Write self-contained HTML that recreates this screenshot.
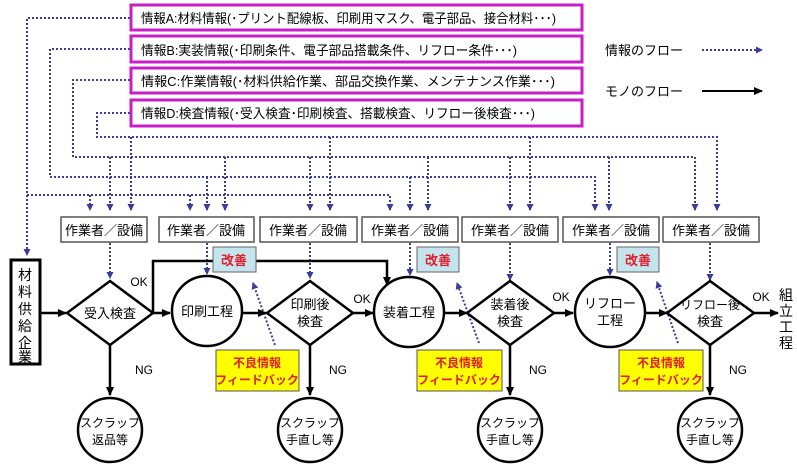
<!DOCTYPE html>
<html><head><meta charset="utf-8"><style>
html,body{margin:0;padding:0;background:#fff;}
svg{display:block;}
text{font-family:"Liberation Sans","Noto Sans CJK JP",sans-serif;}
</style></head><body>
<svg width="797" height="466" viewBox="0 0 797 466" xmlns="http://www.w3.org/2000/svg">
<defs>
<marker id="bd" markerWidth="8" markerHeight="8" refX="6" refY="4" orient="auto" markerUnits="userSpaceOnUse"><path d="M0,0.5 L7,4 L0,7.5 z" fill="#3b3b9c"/></marker>
<marker id="bk" markerWidth="9" markerHeight="9" refX="8" refY="4.5" orient="auto" markerUnits="userSpaceOnUse"><path d="M0,0.5 L9,4.5 L0,8.5 z" fill="#000"/></marker>
</defs>
<g fill="#fff" stroke="#c81ec8" stroke-width="3">
<rect x="131" y="5" width="451" height="25"/>
<rect x="131" y="36" width="451" height="26"/>
<rect x="131" y="68" width="451" height="25"/>
<rect x="131" y="100" width="451" height="26"/>
</g>
<g font-size="13" fill="#000">
<text x="141" y="23" textLength="415" lengthAdjust="spacingAndGlyphs">情報A:材料情報(･プリント配線板、印刷用マスク、電子部品、接合材料･･･)</text>
<text x="141" y="55" textLength="376" lengthAdjust="spacingAndGlyphs">情報B:実装情報(･印刷条件、電子部品搭載条件、リフロー条件･･･)</text>
<text x="141" y="86" textLength="414" lengthAdjust="spacingAndGlyphs">情報C:作業情報(･材料供給作業、部品交換作業、メンテナンス作業･･･)</text>
<text x="141" y="118" textLength="394" lengthAdjust="spacingAndGlyphs">情報D:検査情報(･受入検査･印刷検査、搭載検査、リフロー後検査･･･)</text>
</g>
<g font-size="13"><text x="605" y="55">情報のフロー</text><text x="605" y="96">モノのフロー</text></g>
<line x1="702" y1="50" x2="762" y2="50" stroke="#3b3b9c" stroke-width="2" stroke-dasharray="2 2" marker-end="url(#bd)"/>
<line x1="702" y1="91" x2="762" y2="91" stroke="#000" stroke-width="2" marker-end="url(#bk)"/>
<g fill="none" stroke="#3b3b9c" stroke-width="2" stroke-dasharray="2 2">
<polyline points="130,18 27,18 27,255" marker-end="url(#bd)"/>
<polyline points="27,195 390,195 390,210" marker-end="url(#bd)"/>
<polyline points="130,49 50,49 50,177 595,177 595,210" marker-end="url(#bd)"/>
<polyline points="130,80 73,80 73,157 695,157 695,210" marker-end="url(#bd)"/>
<polyline points="130,113 97,113 97,137 717,137 717,210" marker-end="url(#bd)"/>
<line x1="90" y1="195" x2="90" y2="210" marker-end="url(#bd)"/>
<line x1="110" y1="157" x2="110" y2="210" marker-end="url(#bd)"/>
<line x1="131" y1="137" x2="131" y2="210" marker-end="url(#bd)"/>
<line x1="190" y1="195" x2="190" y2="210" marker-end="url(#bd)"/>
<line x1="207" y1="177" x2="207" y2="210" marker-end="url(#bd)"/>
<line x1="225" y1="157" x2="225" y2="210" marker-end="url(#bd)"/>
<line x1="310" y1="157" x2="310" y2="210" marker-end="url(#bd)"/>
<line x1="330" y1="137" x2="330" y2="210" marker-end="url(#bd)"/>
<line x1="410" y1="177" x2="410" y2="210" marker-end="url(#bd)"/>
<line x1="428" y1="157" x2="428" y2="210" marker-end="url(#bd)"/>
<line x1="510" y1="157" x2="510" y2="210" marker-end="url(#bd)"/>
<line x1="530" y1="137" x2="530" y2="210" marker-end="url(#bd)"/>
<line x1="609" y1="157" x2="609" y2="210" marker-end="url(#bd)"/>
<line x1="110" y1="243" x2="110" y2="278" marker-end="url(#bd)"/>
<line x1="207" y1="243" x2="207" y2="274" marker-end="url(#bd)"/>
<line x1="310" y1="243" x2="310" y2="278" marker-end="url(#bd)"/>
<line x1="410" y1="243" x2="410" y2="275" marker-end="url(#bd)"/>
<line x1="510" y1="243" x2="510" y2="280" marker-end="url(#bd)"/>
<line x1="610" y1="243" x2="610" y2="275" marker-end="url(#bd)"/>
<line x1="710" y1="243" x2="710" y2="280" marker-end="url(#bd)"/>
<line x1="275" y1="345" x2="253" y2="283" marker-end="url(#bd)"/>
<line x1="479" y1="343" x2="457" y2="283" marker-end="url(#bd)"/>
<line x1="678" y1="343" x2="657" y2="282" marker-end="url(#bd)"/>
</g>
<g fill="#fff" stroke="#555" stroke-width="1.5">
<rect x="61" y="217" width="86" height="25"/>
<rect x="159" y="217" width="95" height="25"/>
<rect x="260" y="217" width="97" height="25"/>
<rect x="362" y="217" width="96" height="25"/>
<rect x="462" y="217" width="96" height="25"/>
<rect x="563" y="217" width="96" height="25"/>
<rect x="663" y="217" width="96" height="25"/>
</g>
<g font-size="13" text-anchor="middle">
<text x="104" y="235">作業者／設備</text>
<text x="206" y="235">作業者／設備</text>
<text x="308" y="235">作業者／設備</text>
<text x="410" y="235">作業者／設備</text>
<text x="510" y="235">作業者／設備</text>
<text x="611" y="235">作業者／設備</text>
<text x="711" y="235">作業者／設備</text>
</g>
<rect x="11" y="260" width="29" height="104" fill="#fff" stroke="#000" stroke-width="3"/>
<g font-size="14" text-anchor="middle"><text x="25" y="280">材</text><text x="25" y="297">料</text><text x="25" y="314">供</text><text x="25" y="331">給</text><text x="25" y="348">企</text><text x="25" y="362">業</text></g>
<g font-size="14" text-anchor="middle"><text x="786" y="300">組</text><text x="786" y="316">立</text><text x="786" y="332">工</text><text x="786" y="348">程</text></g>
<g stroke="#000" stroke-width="2.5" fill="none">
<line x1="41" y1="313" x2="66" y2="313" marker-end="url(#bk)"/>
<line x1="153" y1="313" x2="170" y2="313" marker-end="url(#bk)"/>
<polyline points="153,313 153,261 387,261 387,285" marker-end="url(#bk)"/>
<line x1="243" y1="313" x2="266" y2="313" marker-end="url(#bk)"/>
<line x1="353" y1="313" x2="373" y2="313" marker-end="url(#bk)"/>
<line x1="445" y1="313" x2="467" y2="313" marker-end="url(#bk)"/>
<line x1="554" y1="313" x2="573" y2="313" marker-end="url(#bk)"/>
<line x1="646" y1="313" x2="667" y2="313" marker-end="url(#bk)"/>
<line x1="754" y1="313" x2="778" y2="313" marker-end="url(#bk)"/>
<line x1="110" y1="345" x2="110" y2="395" marker-end="url(#bk)"/>
<line x1="310" y1="345" x2="310" y2="395" marker-end="url(#bk)"/>
<line x1="510" y1="345" x2="510" y2="395" marker-end="url(#bk)"/>
<line x1="710" y1="345" x2="710" y2="395" marker-end="url(#bk)"/>
</g>
<g fill="#fff" stroke="#000" stroke-width="2.5">
<polygon points="110,281 153,313 110,345 67,313"/>
<polygon points="310,281 353,313 310,345 267,313"/>
<polygon points="510,281 554,313 510,345 467,313"/>
<polygon points="710,281 754,313 710,345 667,313"/>
<circle cx="207" cy="311" r="35"/>
<circle cx="409" cy="312" r="35"/>
<circle cx="610" cy="312" r="35"/>
<circle cx="110" cy="430" r="32"/>
<circle cx="310" cy="430" r="32"/>
<circle cx="510" cy="430" r="32"/>
<circle cx="710" cy="430" r="32"/>
</g>
<g font-size="13" text-anchor="middle">
<text x="110" y="318">受入検査</text>
<text x="207" y="316">印刷工程</text>
<text x="310" y="309">印刷後</text><text x="310" y="326">検査</text>
<text x="409" y="317">装着工程</text>
<text x="510" y="309">装着後</text><text x="510" y="326">検査</text>
<text x="610" y="308">リフロー</text><text x="610" y="325">工程</text>
<text x="710" y="309" font-size="12">リフロー後</text><text x="710" y="326">検査</text>
</g>
<g font-size="12" text-anchor="middle">
<text x="110" y="427">スクラップ</text><text x="110" y="444">返品等</text>
<text x="310" y="427">スクラップ</text><text x="310" y="444">手直し等</text>
<text x="510" y="427">スクラップ</text><text x="510" y="444">手直し等</text>
<text x="710" y="427">スクラップ</text><text x="710" y="444">手直し等</text>
<text x="139" y="286">OK</text><text x="362" y="303">OK</text><text x="561" y="301">OK</text><text x="761" y="301">OK</text>
<text x="144" y="374">NG</text><text x="338" y="374">NG</text><text x="538" y="374">NG</text><text x="738" y="374">NG</text>
</g>
<g fill="#c5e4ee" stroke="#666" stroke-width="1">
<rect x="213" y="247" width="43" height="25"/>
<rect x="417" y="247" width="42" height="25"/>
<rect x="617" y="247" width="42" height="25"/>
</g>
<g font-size="13" font-weight="bold" fill="#e0202a" text-anchor="middle">
<text x="234" y="265">改善</text><text x="438" y="265">改善</text><text x="638" y="265">改善</text>
</g>
<g fill="#ffff00" stroke="#555" stroke-width="1">
<rect x="216" y="350" width="83" height="41"/>
<rect x="417" y="350" width="85" height="41"/>
<rect x="619" y="350" width="84" height="41"/>
</g>
<g font-size="12" font-weight="bold" fill="#e0202a" text-anchor="middle">
<text x="257" y="367">不良情報</text><text x="257" y="384">フィードバック</text>
<text x="459" y="367">不良情報</text><text x="459" y="384">フィードバック</text>
<text x="661" y="367">不良情報</text><text x="661" y="384">フィードバック</text>
</g>
</svg>
</body></html>
